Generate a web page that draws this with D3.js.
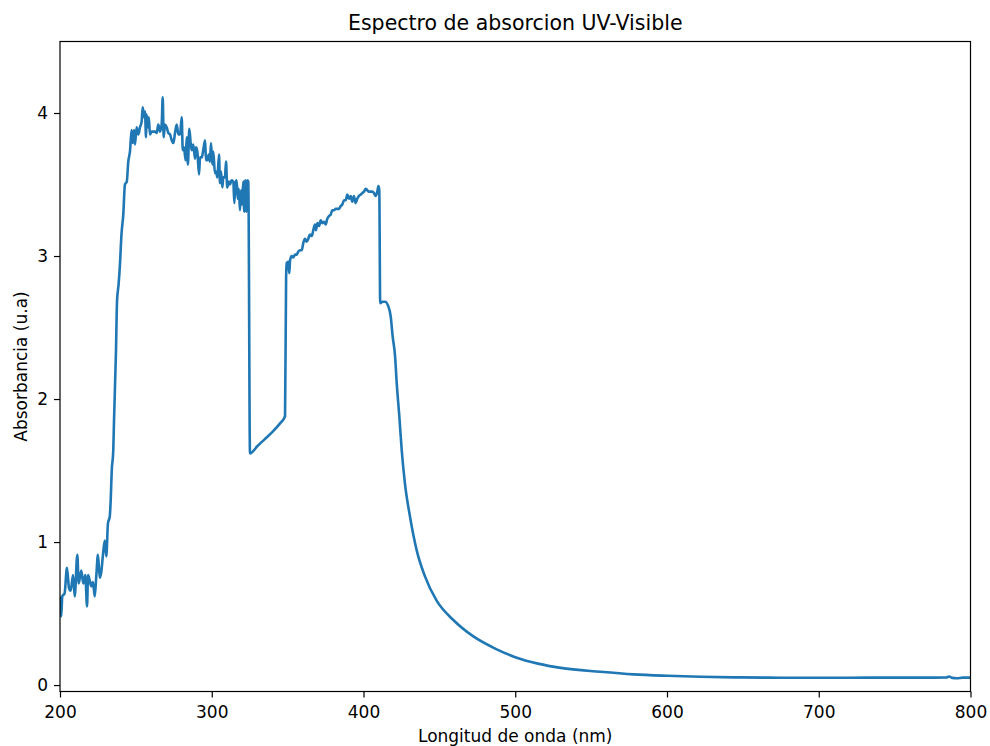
<!DOCTYPE html>
<html>
<head>
<meta charset="utf-8">
<script src="https://cdn.jsdelivr.net/npm/d3@7"></script>
<style>
  html, body { margin: 0; padding: 0; background: #fff; }
  svg { display: block; font-family: "DejaVu Sans", sans-serif; }
</style>
</head>
<body>
<svg id="chart" width="990" height="746"></svg>
<script>
// UV-Vis absorption spectrum: wavelength (nm) and absorbance (u.a)
const wavelength = [
  200.0, 200.8, 201.5, 203.0, 204.6, 205.9, 207.0, 208.6, 209.7, 211.4,
  212.3, 214.0, 215.4, 216.7, 217.8, 218.5, 219.6, 220.6, 221.7, 222.9,
  223.9, 225.0, 226.2, 227.2, 228.3, 229.5, 230.5, 231.6, 232.8, 233.4,
  234.1, 235.1, 235.6, 236.9, 237.6, 238.6, 239.5, 240.5, 241.7, 242.8,
  244.0, 245.0, 246.1, 247.2, 247.9, 248.8, 249.4, 250.5, 251.6, 252.7,
  253.8, 254.5, 255.4, 256.0, 256.7, 257.1, 257.8, 258.5, 259.3, 260.4,
  261.5, 262.6, 263.7, 264.8, 265.9, 267.0, 267.7, 268.3, 269.2, 270.3,
  271.4, 272.5, 273.6, 274.7, 275.8, 276.9, 278.0, 279.1, 280.2, 280.9,
  281.7, 282.8, 283.5, 284.3, 285.2, 286.1, 286.8, 287.8, 289.0, 289.6,
  290.5, 291.6, 292.3, 293.4, 294.4, 295.6, 296.2, 297.1, 298.0, 298.8,
  299.5, 300.4, 301.0, 302.1, 302.8, 303.7, 304.8, 305.4, 306.1, 307.0,
  307.6, 308.7, 309.4, 310.2, 311.2, 312.0, 313.1, 314.2, 314.9, 315.5,
  316.4, 317.1, 317.8, 318.6, 319.3, 319.9, 320.8, 321.4, 322.1, 322.8,
  323.4, 324.1, 325.2, 330.0, 335.0, 340.0, 345.0, 348.3, 349.0, 349.4,
  350.4, 351.1, 351.6, 352.7, 353.7, 354.9, 356.0, 357.0, 358.2, 359.3,
  360.3, 361.4, 362.6, 363.6, 364.7, 365.9, 366.9, 368.0, 368.7, 369.6,
  370.7, 371.8, 372.9, 374.0, 375.1, 376.1, 377.3, 378.4, 379.4, 380.6,
  381.7, 382.7, 383.9, 385.0, 386.0, 387.2, 388.3, 389.3, 390.4, 391.6,
  392.6, 393.7, 394.8, 395.9, 397.0, 398.2, 399.2, 400.3, 401.5, 402.5,
  403.6, 404.7, 405.8, 406.9, 408.0, 409.1, 409.8, 410.4, 411.0, 412.5,
  414.2, 416.3, 417.9, 419.2, 420.8, 421.9, 423.6, 425.2, 427.3, 430.6,
  435.1, 440.5, 448.2, 459.2, 472.4, 487.8, 500.0, 515.0, 530.0, 556.0,
  578.0, 600.0, 622.0, 644.0, 666.0, 688.0, 710.0, 732.0, 754.0, 776.0,
  784.0, 786.0, 788.0, 791.0, 795.0, 800.0
];
const absorbance = [
  0.62, 0.48, 0.62, 0.64, 0.82, 0.68, 0.66, 0.77, 0.62, 0.91,
  0.71, 0.80, 0.71, 0.77, 0.55, 0.77, 0.73, 0.69, 0.72, 0.62,
  0.76, 0.91, 0.75, 0.79, 0.91, 1.01, 0.90, 1.13, 1.18, 1.29,
  1.50, 1.64, 1.85, 2.34, 2.69, 2.80, 2.94, 3.15, 3.29, 3.50,
  3.52, 3.66, 3.73, 3.88, 3.79, 3.88, 3.78, 3.90, 3.85, 3.90,
  3.94, 4.04, 3.97, 4.01, 3.83, 3.99, 3.90, 3.97, 3.85, 3.87,
  3.87, 3.87, 3.86, 3.92, 3.87, 3.92, 4.11, 3.83, 3.92, 3.90,
  3.86, 3.85, 3.81, 3.79, 3.86, 3.92, 3.85, 3.85, 3.97, 3.74,
  3.76, 3.67, 3.83, 3.64, 3.89, 3.79, 3.74, 3.78, 3.68, 3.76,
  3.73, 3.57, 3.69, 3.69, 3.74, 3.81, 3.67, 3.67, 3.71, 3.66,
  3.79, 3.64, 3.73, 3.58, 3.59, 3.55, 3.71, 3.51, 3.59, 3.48,
  3.55, 3.55, 3.66, 3.48, 3.52, 3.50, 3.53, 3.52, 3.37, 3.50,
  3.53, 3.40, 3.47, 3.32, 3.46, 3.36, 3.52, 3.31, 3.53, 3.31,
  3.53, 3.52, 1.62, 1.67, 1.72, 1.77, 1.83, 1.88, 2.85, 2.95,
  2.96, 2.88, 2.97, 3.00, 2.99, 3.01, 3.01, 3.03, 3.04, 3.04,
  3.09, 3.12, 3.10, 3.12, 3.15, 3.14, 3.18, 3.22, 3.18, 3.23,
  3.21, 3.25, 3.23, 3.24, 3.22, 3.26, 3.28, 3.29, 3.32, 3.32,
  3.33, 3.33, 3.33, 3.35, 3.36, 3.39, 3.39, 3.43, 3.40, 3.42,
  3.38, 3.42, 3.37, 3.40, 3.42, 3.43, 3.44, 3.45, 3.47, 3.46,
  3.45, 3.45, 3.45, 3.44, 3.42, 3.45, 3.49, 3.46, 2.67, 2.68,
  2.68, 2.65, 2.58, 2.44, 2.30, 2.11, 1.88, 1.64, 1.41, 1.18,
  0.94, 0.76, 0.59, 0.455, 0.34, 0.25, 0.195, 0.15, 0.12, 0.093,
  0.075, 0.065, 0.058, 0.054, 0.052, 0.051, 0.051, 0.052, 0.052, 0.052,
  0.053, 0.060, 0.050, 0.048, 0.052, 0.052
];
const xTicks = [200, 300, 400, 500, 600, 700, 800];
const yTicks = [0, 1, 2, 3, 4];

const titleText = "Espectro de absorcion UV-Visible";
const xLabel = "Longitud de onda (nm)";
const yLabel = "Absorbancia (u.a)";

const svg = d3.select("#chart");
const margin = { left: 60, right: 19.5, top: 41.5, bottom: 54.5 };
const W = 990, H = 746;
const pw = W - margin.left - margin.right;
const ph = H - margin.top - margin.bottom;

const tickFont = "17px";
const titleFont = "20.5px";

const x = d3.scaleLinear().domain([200, 800]).range([0, pw]);
const y = d3.scaleLinear().domain([-0.045, 4.5]).range([ph, 0]);

const g = svg.append("g").attr("transform", `translate(${margin.left},${margin.top})`);

g.append("defs").append("clipPath").attr("id", "plotClip")
  .append("rect").attr("width", pw).attr("height", ph);

const data = wavelength.map((w, i) => ({ w, a: absorbance[i] }));

const line = d3.line()
  .x(d => x(d.w))
  .y(d => y(d.a))
  .curve(d3.curveMonotoneX);

g.append("path")
  .datum(data)
  .attr("clip-path", "url(#plotClip)")
  .attr("fill", "none")
  .attr("stroke", "#1f77b4")
  .attr("stroke-width", 2.6)
  .attr("stroke-linejoin", "round")
  .attr("stroke-linecap", "butt")
  .attr("d", line);

// axes
const xAxis = d3.axisBottom(x).tickValues(xTicks).tickSize(6).tickPadding(8).tickFormat(d3.format("d"));
const yAxis = d3.axisLeft(y).tickValues(yTicks).tickSize(6).tickPadding(6).tickFormat(d3.format("d"));

const gx = g.append("g").attr("transform", `translate(0,${ph})`).call(xAxis);
const gy = g.append("g").call(yAxis);

[gx, gy].forEach(a => {
  a.select(".domain").remove();
  a.selectAll(".tick line").attr("stroke", "#000").attr("stroke-width", 1.2);
  a.selectAll(".tick text")
    .attr("fill", "#000")
    .style("font-family", "'DejaVu Sans', sans-serif")
    .style("font-size", tickFont);
});

// frame
g.append("rect")
  .attr("width", pw).attr("height", ph)
  .attr("fill", "none").attr("stroke", "#000").attr("stroke-width", 1.2);

// title and labels
svg.append("text")
  .attr("x", margin.left + pw / 2).attr("y", 30)
  .attr("text-anchor", "middle")
  .style("font-size", titleFont)
  .text(titleText);

svg.append("text")
  .attr("x", margin.left + pw / 2).attr("y", 742)
  .attr("text-anchor", "middle")
  .style("font-size", tickFont)
  .text(xLabel);

svg.append("text")
  .attr("transform", `translate(26.5,${margin.top + ph / 2}) rotate(-90)`)
  .attr("text-anchor", "middle")
  .style("font-size", tickFont)
  .text(yLabel);
</script>
</body>
</html>
